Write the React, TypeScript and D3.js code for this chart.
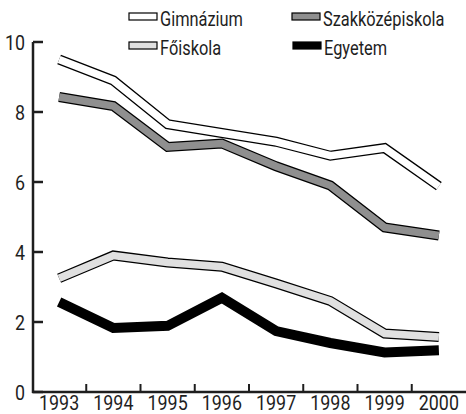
import React from 'react';
import * as d3 from 'd3';

const years = ['1993', '1994', '1995', '1996', '1997', '1998', '1999', '2000'];
const gimnazium = [9.5, 8.9, 7.65, 7.4, 7.15, 6.75, 6.97, 5.88];
const szakkozep = [8.43, 8.17, 7.0, 7.1, 6.45, 5.9, 4.7, 4.47];
const foiskola = [3.25, 3.9, 3.7, 3.58, 3.1, 2.6, 1.67, 1.57];
const egyetem = [2.57, 1.83, 1.89, 2.69, 1.74, 1.4, 1.13, 1.19];
const yTicks = [0, 2, 4, 6, 8, 10];

const series = [
  { name: 'Egyetem', values: egyetem, fill: '#000', legend: [293, 42] },
  { name: 'Főiskola', values: foiskola, fill: '#e0e0e0', legend: [129, 42] },
  { name: 'Gimnázium', values: gimnazium, fill: '#fff', legend: [129, 13] },
  { name: 'Szakközépiskola', values: szakkozep, fill: '#8f8f8f', legend: [292, 13] },
];

const W = 466;
const H = 414;
const font = 'Roboto, sans-serif';
const ink = '#1e1e1e';

// narrow text: the reference uses a condensed face, so squeeze Roboto horizontally
function Narrow({ x, y, sx, anchor = 'start', dy, children }: any) {
  return (
    <text
      transform={`translate(${x},${y}) scale(${sx},1)`}
      dy={dy}
      textAnchor={anchor}
      fontSize={21}
      fill={ink}
    >
      {children}
    </text>
  );
}

export default function App() {
  const x = d3.scaleBand().domain(years).range([32, 466]);
  const y = d3.scaleLinear().domain([0, 10]).range([392, 42]);
  const cx = (yr: string) => (x(yr) as number) + x.bandwidth() / 2;

  const line = d3
    .line<number>()
    .x((_, i) => cx(years[i]))
    .y((d) => y(d));

  return (
    <svg width={W} height={H} style={{ position: 'absolute', left: 0, top: 0 }} fontFamily={font}>
      {/* axes */}
      <line x1={33} x2={33} y1={y(10)} y2={393} stroke={ink} strokeWidth={2.5} />
      <line x1={32} x2={466} y1={392} y2={392} stroke={ink} strokeWidth={2.5} />
      {yTicks.map((t) => (
        <g key={t}>
          <line x1={33} x2={43} y1={y(t)} y2={y(t)} stroke={ink} strokeWidth={2.5} />
          <Narrow x={25} y={y(t)} sx={0.85} anchor="end" dy="0.36em">
            {t}
          </Narrow>
        </g>
      ))}
      {years.slice(1).map((yr) => (
        <line key={yr} x1={x(yr)} x2={x(yr)} y1={384} y2={392} stroke={ink} strokeWidth={2} />
      ))}
      {years.map((yr) => (
        <Narrow key={yr} x={cx(yr)} y={410} sx={0.85} anchor="middle">
          {yr}
        </Narrow>
      ))}

      {/* lines */}
      {series.map((s) => (
        <g key={s.name}>
          <path d={line(s.values) || ''} fill="none" stroke="#000" strokeWidth={10} strokeLinejoin="miter" />
          {s.fill !== '#000' && (
            <path d={line(s.values) || ''} fill="none" stroke={s.fill} strokeWidth={7.5} strokeLinejoin="miter" />
          )}
        </g>
      ))}

      {/* legend */}
      {series.map((s) => (
        <g key={'lg' + s.name}>
          <rect x={s.legend[0]} y={s.legend[1]} width={28} height={7} fill={s.fill} stroke="#000" strokeWidth={1.2} />
          <Narrow x={s.legend[0] + 31} y={s.legend[1] + 13} sx={0.78}>
            {s.name}
          </Narrow>
        </g>
      ))}
    </svg>
  );
}
